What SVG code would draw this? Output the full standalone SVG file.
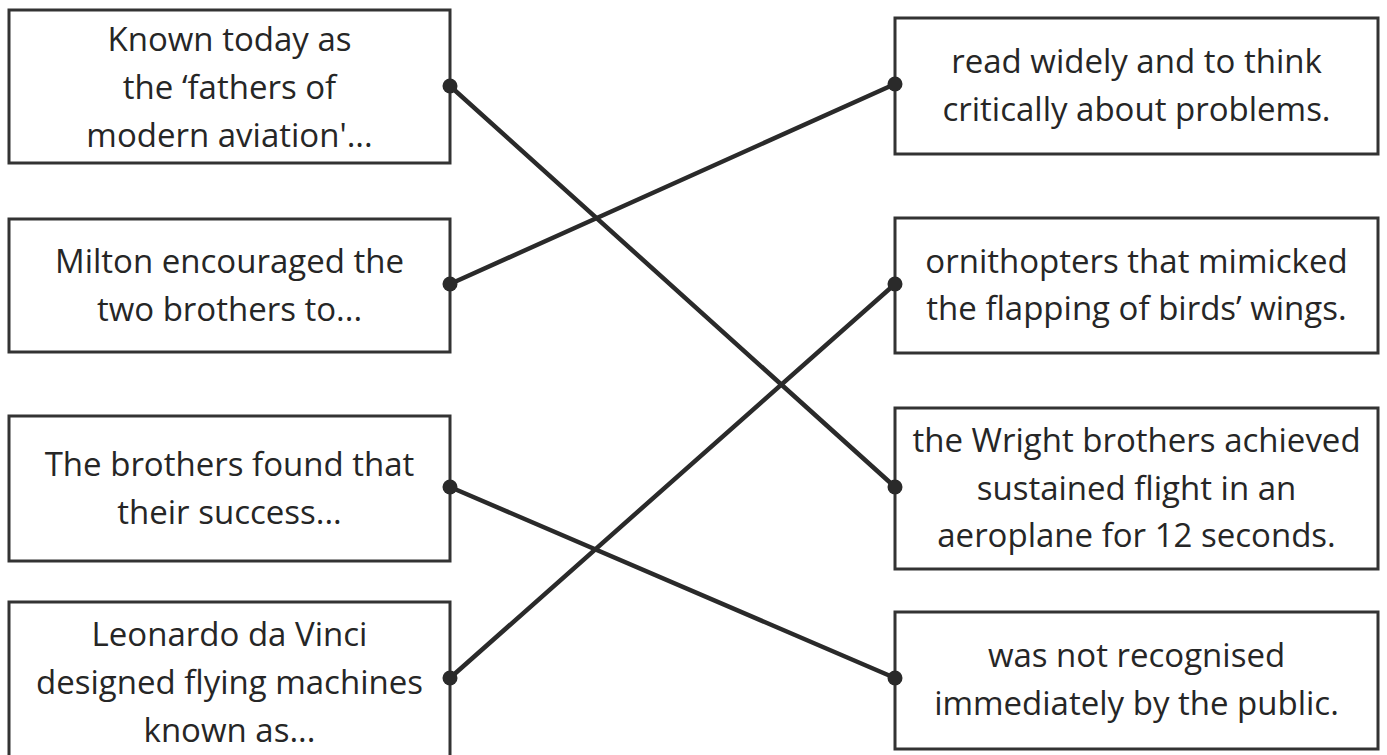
<svg xmlns="http://www.w3.org/2000/svg" width="1387" height="755" viewBox="0 0 1387 755">
<style>
.box{fill:#fff;stroke:#333;stroke-width:3}
.t{font-family:"Open Sans","DejaVu Sans",sans-serif;font-size:33px;fill:#262626;text-anchor:middle}
.c{stroke:#2a2a2a;stroke-width:4.5;stroke-linecap:round;fill:none}
.d{fill:#2a2a2a}
</style>
<rect width="1387" height="755" fill="#fff"/>
<g id="left1"><rect class="box" x="9" y="10" width="441" height="153"/>
<text class="t" x="229.5" y="50.5">Known today as</text>
<text class="t" x="229.5" y="98.5">the ‘fathers of</text>
<text class="t" x="229.5" y="146.5">modern aviation'...</text></g>
<g id="left2"><rect class="box" x="9" y="219" width="441" height="133"/>
<text class="t" x="229.5" y="272.5">Milton encouraged the</text>
<text class="t" x="229.5" y="320.5">two brothers to...</text></g>
<g id="left3"><rect class="box" x="9" y="416" width="441" height="145"/>
<text class="t" x="229.5" y="476">The brothers found that</text>
<text class="t" x="229.5" y="524">their success...</text></g>
<g id="left4"><rect class="box" x="9" y="602" width="441" height="170"/>
<text class="t" x="229.5" y="646">Leonardo da Vinci</text>
<text class="t" x="229.5" y="693.5">designed flying machines</text>
<text class="t" x="229.5" y="741.5">known as...</text></g>
<g id="right1"><rect class="box" x="895" y="18" width="483" height="136"/>
<text class="t" x="1136.5" y="72.5">read widely and to think</text>
<text class="t" x="1136.5" y="120.5">critically about problems.</text></g>
<g id="right2"><rect class="box" x="895" y="218" width="483" height="135"/>
<text class="t" x="1136.5" y="272.5">ornithopters that mimicked</text>
<text class="t" x="1136.5" y="320">the flapping of birds’ wings.</text></g>
<g id="right3"><rect class="box" x="895" y="408" width="483" height="161"/>
<text class="t" x="1136.5" y="451.5">the Wright brothers achieved</text>
<text class="t" x="1136.5" y="499.5">sustained flight in an</text>
<text class="t" x="1136.5" y="546.5">aeroplane for 12 seconds.</text></g>
<g id="right4"><rect class="box" x="895" y="612" width="483" height="137"/>
<text class="t" x="1136.5" y="666.5">was not recognised</text>
<text class="t" x="1136.5" y="715">immediately by the public.</text></g>
<g id="connectors">
<line class="c" x1="450" y1="86" x2="895" y2="487"/>
<line class="c" x1="450" y1="284" x2="895" y2="84"/>
<line class="c" x1="450" y1="487" x2="895" y2="678"/>
<line class="c" x1="450" y1="678" x2="895" y2="284"/>
<circle class="d" cx="450" cy="86" r="7.5"/>
<circle class="d" cx="450" cy="284" r="7.5"/>
<circle class="d" cx="450" cy="487" r="7.5"/>
<circle class="d" cx="450" cy="678" r="7.5"/>
<circle class="d" cx="895" cy="84" r="7.5"/>
<circle class="d" cx="895" cy="284" r="7.5"/>
<circle class="d" cx="895" cy="487" r="7.5"/>
<circle class="d" cx="895" cy="678" r="7.5"/>
</g>
</svg>
